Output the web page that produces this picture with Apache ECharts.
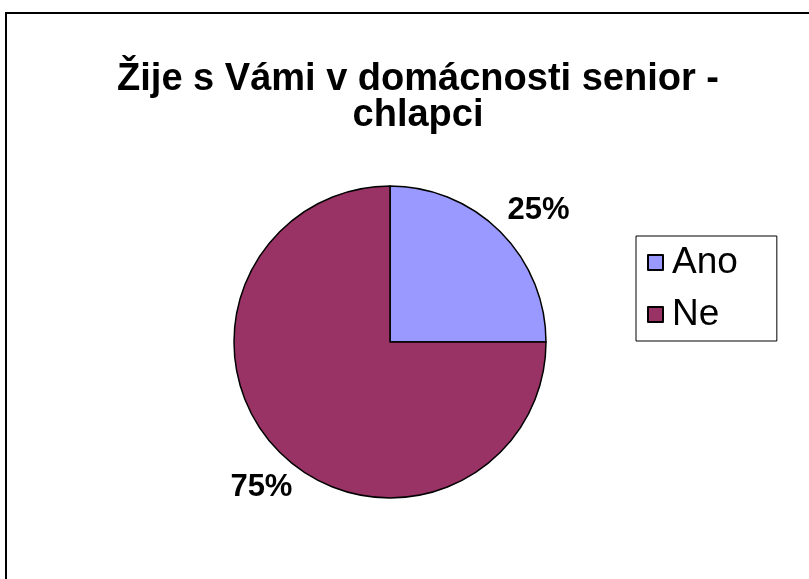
<!DOCTYPE html>
<html>
<head>
<meta charset="utf-8">
<script src="https://cdn.jsdelivr.net/npm/echarts@6/dist/echarts.min.js"></script>
<style>
html,body{margin:0;padding:0;background:#fff;}
#chart{width:809px;height:579px;}
</style>
</head>
<body>
<div id="chart"></div>
<script>
var titleText = 'Žije s Vámi v domácnosti senior -\nchlapci';
var categories = ['Ano', 'Ne'];
var values = [25, 75];
var colors = ['#9999FF', '#993366'];

var chart = echarts.init(document.getElementById('chart'));
var option = {
  backgroundColor: '#ffffff',
  animation: false,
  title: {
    text: titleText,
    left: 418,
    top: 62,
    textAlign: 'center',
    padding: 0,
    textStyle: {
      fontFamily: 'Liberation Sans',
      fontWeight: 'bold',
      fontSize: 38,
      lineHeight: 36,
      color: '#000'
    }
  },
  graphic: [{
    type: 'rect',
    shape: {x: 6, y: 13, width: 900, height: 700},
    style: {fill: 'none', stroke: '#000', lineWidth: 2},
    silent: true
  }],
  legend: {
    orient: 'vertical',
    left: 636,
    top: 236,
    itemWidth: 15,
    itemHeight: 15,
    itemGap: 15,
    padding: [8, 39, 8, 11],
    borderColor: '#000',
    borderWidth: 1,
    icon: 'rect',
    textStyle: {fontFamily: 'Liberation Sans', fontSize: 37, lineHeight: 36, color: '#000', padding: [0, 0, 0, 4]},
    data: categories
  },
  series: [{
    type: 'pie',
    center: [390, 342],
    radius: 156,
    startAngle: 90,
    clockwise: true,
    data: categories.map(function (c, i) {
      return {name: c, value: values[i], itemStyle: {color: colors[i]}};
    }),
    itemStyle: {borderColor: '#000', borderWidth: 1.5},
    label: {
      show: true,
      position: 'outside',
      formatter: '{d}%',
      fontFamily: 'Liberation Sans',
      fontWeight: 'bold',
      fontSize: 31,
      color: '#000',
      distanceToLabelLine: 0
    },
    labelLine: {show: false, length: 40, length2: 0},
    labelLayout: function () { return {align: 'center', dx: 10, dy: 7}; },
    emphasis: {disabled: true}
  }]
};
chart.setOption(option);
</script>
</body>
</html>
